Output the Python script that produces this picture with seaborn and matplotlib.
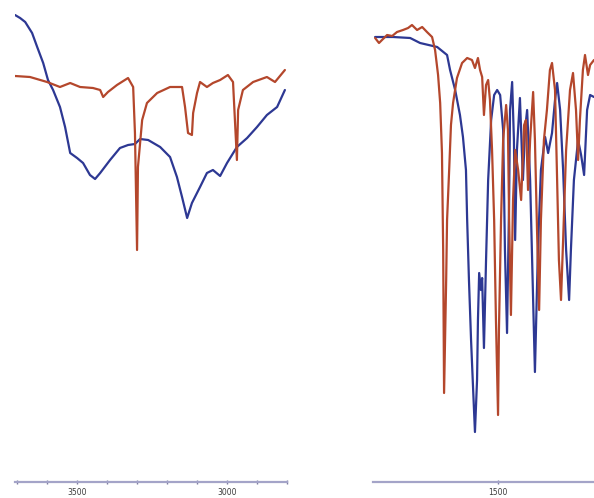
import matplotlib
matplotlib.use("Agg")
import matplotlib.pyplot as plt
from matplotlib.ticker import MultipleLocator, FixedLocator
import seaborn as sns
import pandas as pd

sns.set_theme(style="white")
plt.rcParams["font.family"] = ["DejaVu Sans"]

# ---- High-wavenumber region (cm^-1, %T) ----
hi_blue_wn = [3707, 3690, 3673, 3650, 3633, 3613, 3597, 3580, 3557, 3540, 3523, 3500, 3480,
              3457, 3440, 3423, 3390, 3357, 3330, 3307, 3290, 3263, 3223, 3190, 3167, 3150,
              3133, 3117, 3090, 3067, 3047, 3023, 3000, 2967, 2933, 2900, 2867, 2833, 2807]
hi_blue_t = [97.0, 96.4, 95.6, 93.4, 90.6, 87.4, 84.0, 82.0, 78.6, 74.6, 69.4, 68.4, 67.4,
             65.0, 64.2, 65.4, 68.0, 70.4, 71.0, 71.2, 72.2, 72.0, 70.6, 68.6, 64.6, 60.6,
             56.4, 59.4, 62.6, 65.4, 66.0, 64.8, 67.4, 70.6, 72.4, 74.6, 77.0, 78.6, 82.0]

hi_red_wn = [3707, 3657, 3600, 3557, 3523, 3490, 3447, 3423, 3413, 3397, 3367, 3330, 3313,
             3307, 3300, 3297, 3283, 3267, 3233, 3190, 3150, 3140, 3130, 3117, 3113, 3100,
             3090, 3067, 3047, 3023, 2997, 2980, 2967, 2963, 2947, 2913, 2867, 2840, 2807]
hi_red_t = [84.8, 84.6, 83.6, 82.6, 83.4, 82.6, 82.4, 82.0, 80.6, 81.6, 83.0, 84.4, 82.6,
            73.4, 50.0, 66.6, 76.0, 79.4, 81.4, 82.6, 82.6, 78.6, 73.4, 73.0, 77.4, 81.4,
            83.6, 82.6, 83.4, 84.0, 85.0, 83.6, 68.0, 78.0, 82.0, 83.6, 84.6, 83.6, 86.0]

# ---- Fingerprint region (cm^-1, %T) ----
lo_blue_wn = [1910, 1850, 1793, 1760, 1703, 1670, 1660, 1643, 1627, 1617, 1607, 1603, 1597,
              1590, 1583, 1577, 1570, 1567, 1563, 1557, 1553, 1547, 1540, 1533, 1523, 1513,
              1503, 1493, 1483, 1477, 1470, 1463, 1460, 1453, 1447, 1443, 1437, 1427, 1417,
              1410, 1403, 1393, 1383, 1377, 1367, 1357, 1343, 1333, 1320, 1310, 1303, 1293,
              1283, 1273, 1263, 1257, 1247, 1233, 1223, 1213, 1203, 1193, 1180]
lo_blue_t = [92.6, 92.6, 92.4, 91.4, 90.6, 89.0, 86.0, 82.0, 77.0, 72.6, 66.0, 56.0, 44.0,
             32.0, 22.0, 13.6, 24.0, 36.0, 45.4, 42.0, 44.4, 30.4, 48.0, 64.0, 76.0, 81.0,
             82.0, 81.0, 74.0, 50.0, 33.4, 60.0, 78.0, 83.6, 72.0, 52.0, 70.0, 80.4, 64.0,
             74.0, 78.0, 64.0, 40.0, 25.6, 50.0, 66.0, 72.6, 69.4, 73.4, 80.0, 83.4, 78.0,
             66.0, 50.0, 40.0, 50.0, 64.0, 72.0, 69.0, 65.0, 78.0, 81.0, 80.6]

lo_red_wn = [1910, 1897, 1887, 1870, 1853, 1837, 1817, 1800, 1787, 1770, 1753, 1737, 1720,
             1710, 1700, 1693, 1687, 1683, 1680, 1673, 1670, 1663, 1657, 1650, 1637, 1620,
             1603, 1587, 1577, 1567, 1560, 1553, 1547, 1540, 1533, 1527, 1520, 1513, 1507,
             1500, 1497, 1490, 1483, 1473, 1467, 1463, 1457, 1450, 1443, 1433, 1423, 1413,
             1407, 1400, 1393, 1383, 1377, 1370, 1363, 1357, 1347, 1337, 1327, 1320, 1310,
             1303, 1297, 1290, 1283, 1273, 1260, 1250, 1240, 1233, 1227, 1217, 1210, 1200,
             1193, 1180]
lo_red_t = [92.4, 91.4, 92.0, 93.0, 92.8, 93.6, 94.0, 94.4, 95.0, 94.0, 94.6, 93.6, 92.6,
            90.0, 85.0, 79.4, 69.4, 50.0, 21.4, 44.0, 56.0, 66.0, 75.0, 79.4, 84.4, 87.4,
            88.4, 88.0, 86.4, 88.4, 86.0, 84.6, 77.0, 83.0, 84.0, 80.0, 70.0, 56.0, 36.0,
            17.0, 34.0, 56.0, 72.0, 79.0, 74.0, 56.0, 37.0, 60.0, 70.0, 66.0, 60.0, 75.0,
            76.0, 62.0, 72.0, 81.6, 72.0, 54.0, 38.0, 56.0, 72.0, 78.0, 86.0, 87.4, 82.0,
            64.0, 48.0, 40.0, 52.0, 70.0, 82.0, 85.4, 78.0, 68.0, 76.0, 86.0, 89.0, 85.0,
            87.0, 88.0]

hi_ticks = [3500, 3000]
lo_ticks = [1500]

BLUE = "#2d3893"
RED = "#b4472c"
AXIS = "#a4a4c8"


def frame(wn_b, t_b, wn_r, t_r):
    b = pd.DataFrame({"wn": wn_b, "T": t_b, "sample": "b"})
    r = pd.DataFrame({"wn": wn_r, "T": t_r, "sample": "r"})
    return pd.concat([b, r], ignore_index=True)


W, H = 594, 498
fig = plt.figure(figsize=(W / 100, H / 100), dpi=100)
fig.patch.set_facecolor("white")

ax_hi = fig.add_axes([15 / W, 16 / H, 272 / W, 482 / H])
ax_lo = fig.add_axes([373 / W, 16 / H, 221 / W, 482 / H])

panels = [
    (ax_hi, frame(hi_blue_wn, hi_blue_t, hi_red_wn, hi_red_t), (3707, 2800), hi_ticks, True),
    (ax_lo, frame(lo_blue_wn, lo_blue_t, lo_red_wn, lo_red_t), (1917, 1180), lo_ticks, False),
]

for ax, df, xlim, ticks, minor in panels:
    sns.lineplot(data=df, x="wn", y="T", hue="sample", sort=False, estimator=None,
                 palette={"b": BLUE, "r": RED}, hue_order=["b", "r"],
                 linewidth=1.6, legend=False, ax=ax)
    ax.set_xlim(*xlim)
    ax.set_ylim(3.6, 100)
    ax.set_facecolor("none")
    for s in ["top", "left", "right"]:
        ax.spines[s].set_visible(False)
    ax.spines["bottom"].set_color(AXIS)
    ax.spines["bottom"].set_linewidth(1.6)
    ax.set_yticks([])
    ax.xaxis.set_major_locator(FixedLocator(ticks))
    if minor:
        ax.xaxis.set_minor_locator(MultipleLocator(100))
    ax.tick_params(axis="x", which="both", direction="inout", length=3, width=1.0,
                   color="#7c7ca0", labelsize=5.5, labelcolor="#3a3a3a", pad=3,
                   bottom=True)
    ax.set_xlabel("")
    ax.set_ylabel("")

fig.savefig("out.png", dpi=100, facecolor="white")
